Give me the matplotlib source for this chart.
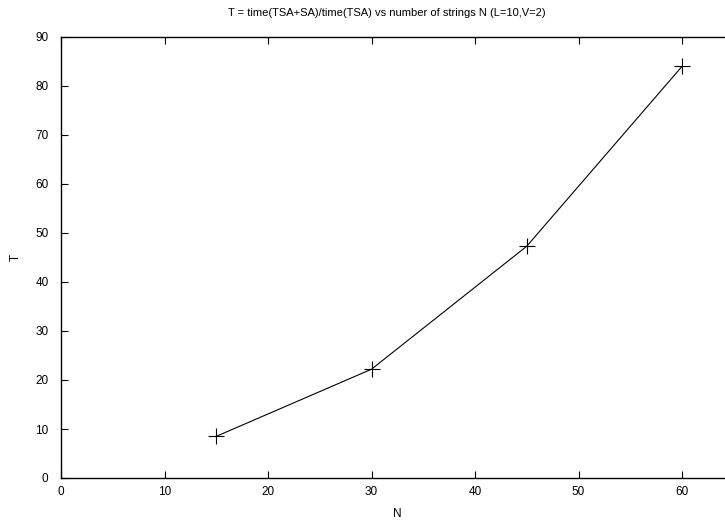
import matplotlib
matplotlib.use("Agg")
import matplotlib.pyplot as plt

N = [15, 30, 45, 60]
T = [8.5, 22.2, 47.3, 84.0]
xticks = [0, 10, 20, 30, 40, 50, 60]
yticks = [0, 10, 20, 30, 40, 50, 60, 70, 80, 90]

plt.rcParams['font.family'] = ['Liberation Sans', 'DejaVu Sans']
plt.rcParams['font.size'] = 8.5

W, H = 725, 522
fig = plt.figure(figsize=(W/100, H/100), dpi=100)
left, right_px, top, bottom = 61, 61 + 672.75, 37, 478
ax = fig.add_axes([left/W, 1 - bottom/H, (right_px-left)/W, (bottom-top)/H])

ax.plot(N, T, color='black', lw=0.8, marker='+', markersize=11, markeredgewidth=0.8)
ax.set_xlim(0, 65)
ax.set_ylim(0, 90)
ax.set_xticks(xticks)
ax.set_yticks(yticks)
ax.tick_params(direction='in', length=5, width=0.8, top=True, right=True, labelsize=8.5)
ax.tick_params(axis='y', pad=9)
ax.tick_params(axis='x', pad=6)
for s in ax.spines.values():
    s.set_linewidth(1.0)
ax.set_xlabel('N', labelpad=7)
ax.set_ylabel('T', labelpad=10)
fig.text(387/W, 1 - 13/H, 'T = time(TSA+SA)/time(TSA) vs number of strings N (L=10,V=2)',
         ha='center', va='center', fontsize=8)
fig.savefig('out.png', dpi=100)
